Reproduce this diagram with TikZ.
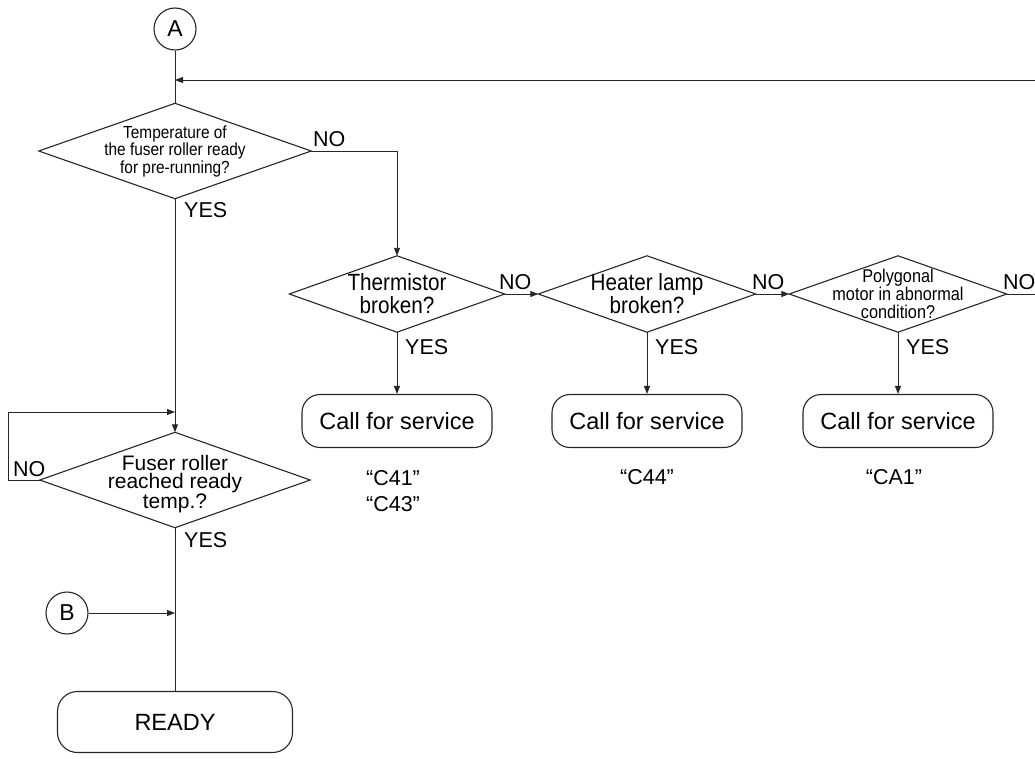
\documentclass[tikz,border=0pt]{standalone}
\usepackage{fontspec}
\setmainfont{Liberation Sans}
\newfontfamily\condfont[FakeStretch=0.88]{Liberation Sans}
\usetikzlibrary{arrows.meta}
\begin{document}
\begin{tikzpicture}[x=1pt,y=-1pt,
  line/.style={line width=0.9pt,draw=black!85},
  arr/.style={line,-{Triangle[length=8pt,width=6pt]}},
  dbox/.style={draw=none,inner sep=0pt,align=center},
  term/.style={draw=black!85,line width=1.1pt,rounded corners=18pt,minimum width=190pt,minimum height=53pt,inner sep=0pt,font=\fontsize{23.5}{25}\selectfont},
  conn/.style={circle,draw=black!85,line width=1.1pt,minimum size=42pt,inner sep=0pt,font=\fontsize{23}{25}\selectfont},
  lbl/.style={inner sep=0pt,font=\fontsize{21.5}{23}\selectfont},
  code/.style={inner sep=0pt,align=center,font=\fontsize{21.5}{26}\selectfont}
]
\clip (0,0) rectangle (1035,758);

% connectors circles
\node[conn] (A) at (175,29) {A};
\node[conn] (B) at (67,613) {B};

% decision nodes (text holders)
\node[dbox,minimum width=272pt,minimum height=95pt,font=\condfont\fontsize{17.5}{17.5}\selectfont] (d1) at (175,151) {Temperature of\\the fuser roller ready\\for pre-running?};
\node[dbox,minimum width=270pt,minimum height=95pt] (d2) at (175,480) {};
\node[dbox,font=\fontsize{21}{18.5}\selectfont] (d2t) at (175,484) {Fuser roller\\reached ready\\temp.?};
\node[dbox,minimum width=215pt,minimum height=76pt,font=\condfont\fontsize{23.5}{23}\selectfont] (t1) at (397,294) {Thermistor\\broken?};
\node[dbox,minimum width=217pt,minimum height=76pt,font=\condfont\fontsize{23.5}{23}\selectfont] (t2) at (647,294) {Heater lamp\\broken?};
\node[dbox,minimum width=217pt,minimum height=76pt,font=\condfont\fontsize{18.5}{18}\selectfont] (t3) at (898,294) {Polygonal\\motor in abnormal\\condition?};

\foreach \n in {d1,d2,t1,t2,t3}
  \draw[line width=1.1pt,draw=black!85] (\n.north) -- (\n.east) -- (\n.south) -- (\n.west) -- cycle;

% terminals
\node[term] (c1) at (397,421) {Call for service};
\node[term] (c2) at (647,421) {Call for service};
\node[term] (c3) at (898,421) {Call for service};
\node[term,minimum width=235pt,minimum height=61pt,rounded corners=20pt] (ready) at (175,722) {READY};

% codes
\node[code] (k1) at (393,491) {“C41”\\“C43”};
\node[code] (k2) at (647,477) {“C44”};
\node[code] (k3) at (894,477) {“CA1”};

% helper coordinates
\coordinate (ja) at (175,80);
\coordinate (jl) at (175,412);
\coordinate (jb) at (175,613);
\coordinate (r1) at (1045,294);
\coordinate (r2) at (1045,80);
\coordinate (n1) at (397,151);
\coordinate (lp1) at (8,480);
\coordinate (lp2) at (8,412);

% main flow
\draw[line] (A.south) -- (d1.north);
\draw[arr] (t3.east) -- (r1) -- (r2) -- (ja);
\draw[arr] (d1.south) -- (d2.north);
\draw[arr] (d1.east) -- (n1) -- (t1.north);
\draw[arr] (t1.east) -- (t2.west);
\draw[arr] (t2.east) -- (t3.west);
\draw[arr] (t1.south) -- (c1.north);
\draw[arr] (t2.south) -- (c2.north);
\draw[arr] (t3.south) -- (c3.north);
\draw[arr] (d2.west) -- (lp1) -- (lp2) -- (jl);
\draw[line] (d2.south) -- (ready.north);
\draw[arr] (B.east) -- (jb);

% labels
\node[lbl,anchor=south west] at (313,147) {NO};
\node[lbl,anchor=north west] at (184,202) {YES};
\node[lbl,anchor=south west] at (499,290) {NO};
\node[lbl,anchor=south west] at (752,290) {NO};
\node[lbl,anchor=south west] at (1003,290) {NO};
\node[lbl,anchor=north west] at (405,339) {YES};
\node[lbl,anchor=north west] at (655,339) {YES};
\node[lbl,anchor=north west] at (906,339) {YES};
\node[lbl,anchor=south west] at (13,477) {NO};
\node[lbl,anchor=north west] at (184,532) {YES};
\end{tikzpicture}
\end{document}
